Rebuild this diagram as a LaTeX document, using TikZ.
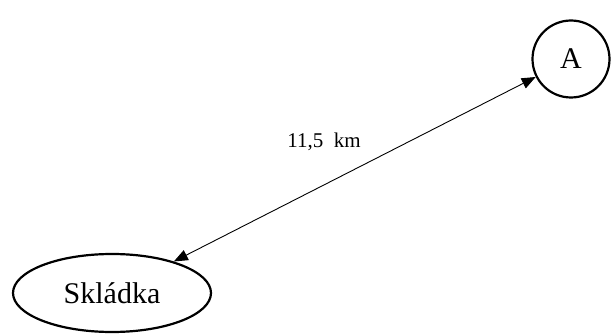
\documentclass[tikz,border=0pt]{standalone}
\usepackage{fontspec}
\setmainfont{Liberation Serif}
\usetikzlibrary{arrows.meta,shapes.geometric}
\begin{document}
\begin{tikzpicture}[x=1pt,y=-1pt,
  place/.style={draw,line width=2.2pt,inner sep=0pt,font=\fontsize{30}{36}\selectfont},
  link/.style={line width=0.9pt,{Triangle[length=14pt,width=11pt]}-{Triangle[length=14pt,width=11pt]}},
  lbl/.style={font=\fontsize{21}{25}\selectfont}]
\useasboundingbox (0,0) rectangle (611,334);
\node[place,ellipse,minimum width=198pt,minimum height=78pt] (S) at (112,293) {Skládka};
\node[place,circle,minimum size=77pt] (A) at (571,59) {A};
\draw[link] (S) -- (A);
\node[lbl] (L) at (324,142) {11,5\ \ km};
\end{tikzpicture}
\end{document}
